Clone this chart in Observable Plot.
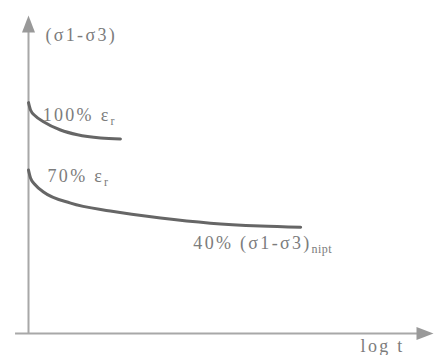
<!DOCTYPE html>
<html>
<head>
<meta charset="utf-8">
<script src="https://cdn.jsdelivr.net/npm/d3@7"></script>
<script src="https://cdn.jsdelivr.net/npm/@observablehq/plot@0.6"></script>
<style>
  html, body { margin: 0; padding: 0; background: #fff; }
</style>
</head>
<body>
<div id="chart"></div>
<script>
// Curve 1: 100% εr (x = log t units, y = deviator stress units)
const curve1X = [0, 0.05, 0.17, 0.37, 0.79, 1.21, 1.78, 2.27];
const curve1Y = [7.26, 7.03, 6.84, 6.66, 6.40, 6.25, 6.15, 6.12];
// Curve 2: 70% εr -> 40% (σ1-σ3)nipt
const curve2X = [0, 0.05, 0.17, 0.37, 1.04, 2.02, 3.26, 4.49, 5.73, 6.72];
const curve2Y = [5.14, 4.89, 4.67, 4.45, 4.10, 3.85, 3.63, 3.47, 3.38, 3.34];

// Labels
const labelText = ["(σ1-σ3)", "100% ε", "70% ε", "40% (σ1-σ3)", "log t"];
const labelSub = ["", "r", "r", "nipt", ""];
const labelX = [0.42, 0.35, 0.47, 4.07, 8.2];
const labelY = [9.37, 6.86, 4.94, 2.83, -0.41];

// Axes extents
const axisXStart = -0.32, axisXEnd = 10;
const axisYStart = 0, axisYEnd = 10;

const c1 = curve1X.map((x, i) => ({x, y: curve1Y[i]}));
const c2 = curve2X.map((x, i) => ({x, y: curve2Y[i]}));
const labels = labelText.map((t, i) => ({t, sub: labelSub[i], x: labelX[i], y: labelY[i]}));

const arrowHead = {
  draw(ctx) {
    ctx.moveTo(0, 0);
    ctx.lineTo(6.5, 17);
    ctx.lineTo(-6.5, 17);
    ctx.closePath();
  }
};

const serif = "'Liberation Serif', 'Times New Roman', serif";

const chart = Plot.plot({
  width: 434,
  height: 355,
  margin: 0,
  x: {domain: [0, 10], range: [28, 433], axis: null},
  y: {domain: [0, 10], range: [333, 15], axis: null},
  style: {fontFamily: serif, background: "#fff", overflow: "visible"},
  marks: [
    Plot.ruleY([0], {x1: axisXStart, x2: axisXEnd - 0.25, stroke: "#a8a8a8", strokeWidth: 2}),
    Plot.ruleX([0], {y1: axisYStart, y2: axisYEnd - 0.5, stroke: "#a8a8a8", strokeWidth: 2}),
    Plot.dot([{x: 0, y: axisYEnd}], {x: "x", y: "y", symbol: arrowHead, fill: "#999", stroke: null, r: 5}),
    Plot.dot([{x: axisXEnd, y: 0}], {x: "x", y: "y", symbol: arrowHead, fill: "#999", stroke: null, r: 5, rotate: 90}),
    Plot.line(c1, {x: "x", y: "y", curve: "monotone-x", stroke: "#666", strokeWidth: 3}),
    Plot.line(c2, {x: "x", y: "y", curve: "monotone-x", stroke: "#666", strokeWidth: 3}),
    Plot.text(labels, {x: "x", y: "y", text: "t", textAnchor: "start", fontSize: 18, fontFamily: serif, fill: "#7c7c7c"})
  ]
});

// Add subscripts and letter spacing
const texts = chart.querySelectorAll('g[aria-label="text"] text');
texts.forEach((el, i) => {
  el.setAttribute("letter-spacing", "2.3px");
  const lab = labels[i];
  if (lab && lab.sub) {
    const ts = document.createElementNS("http://www.w3.org/2000/svg", "tspan");
    ts.setAttribute("font-size", "12");
    ts.setAttribute("dy", "4");
    ts.setAttribute("letter-spacing", "0.5px");
    ts.textContent = lab.sub;
    el.appendChild(ts);
  }
});

document.getElementById("chart").appendChild(chart);
</script>
</body>
</html>
